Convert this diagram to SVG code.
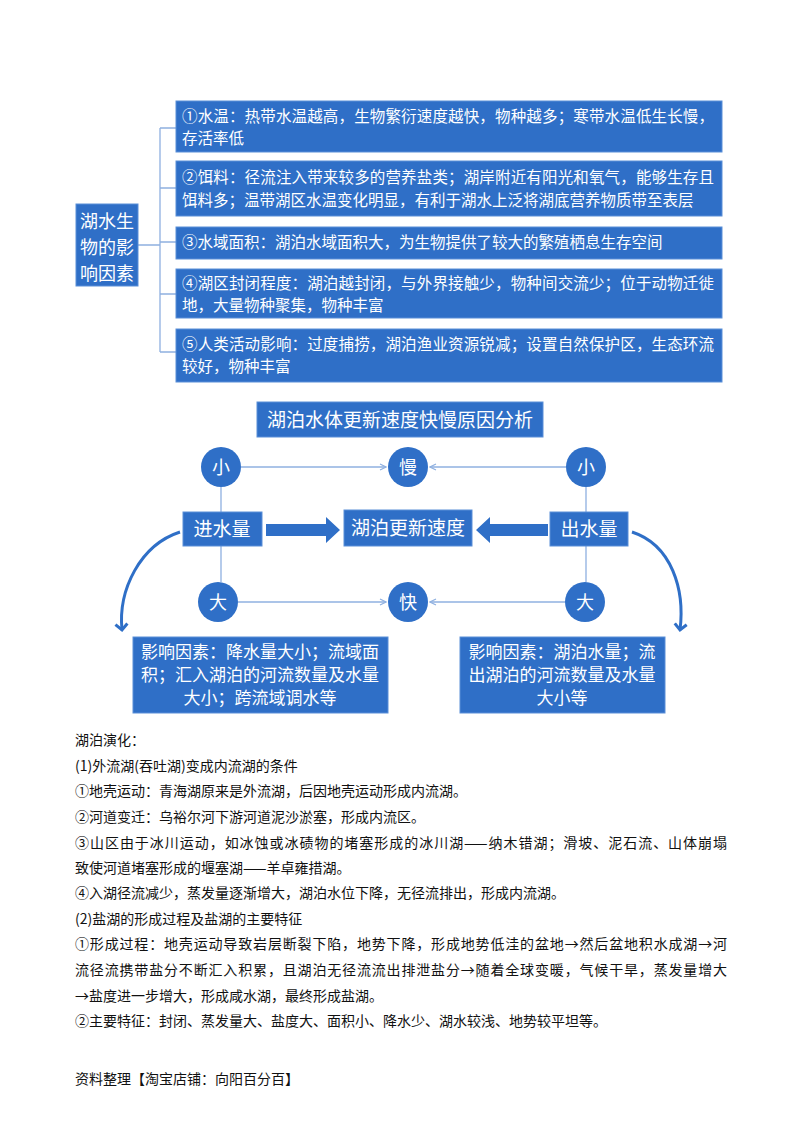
<svg xmlns="http://www.w3.org/2000/svg" width="800" height="1132" viewBox="0 0 800 1132">
<defs>
<style>
.b{fill:#2F6FC7;stroke:#5B8FD8;stroke-width:1}
.w{fill:#fff;font-family:"Noto Sans CJK SC",sans-serif}
.t{fill:#111;font-family:"Noto Sans CJK SC",serif;font-size:14px}
.ln{stroke:#8FB0E0;stroke-width:1.3;fill:none}
.th{stroke:#2F6FC7;stroke-width:3;fill:none}
</style>
<marker id="ah" markerWidth="8" markerHeight="8" refX="7" refY="4" orient="auto" markerUnits="userSpaceOnUse"><path d="M1,1 L7,4 L1,7" fill="none" stroke="#8FB0E0" stroke-width="1.2"/></marker>
<marker id="ch" markerWidth="16" markerHeight="16" refX="8" refY="8" orient="auto" markerUnits="userSpaceOnUse"><path d="M2,2 L8,8 L2,14" fill="none" stroke="#2F6FC7" stroke-width="3"/></marker>
</defs>
<rect width="800" height="1132" fill="#fff"/>
<g id="connectors">
<path class="ln" d="M138,245 H160 M160,128 V352 M160,128 H176 M160,188 H176 M160,242 H176 M160,294 H176 M160,352 H176"/>
<line class="ln" x1="241" y1="467" x2="386" y2="467" marker-end="url(#ah)"/>
<line class="ln" x1="566" y1="467" x2="430" y2="467" marker-end="url(#ah)"/>
<line class="ln" x1="238" y1="602" x2="386" y2="602" marker-end="url(#ah)"/>
<line class="ln" x1="565" y1="602" x2="430" y2="602" marker-end="url(#ah)"/>
<path class="ln" d="M221,487 V512 M221,546 V582 M586,487 V512 M586,546 V582"/>
<path d="M266,524 H326 V517 L340,530 L326,543 V536 H266 Z" fill="#2F6FC7"/>
<path d="M548,524 H490 V517 L476,530 L490,543 V536 H548 Z" fill="#2F6FC7"/>
<path class="th" d="M180,532 C140,545 118,590 122,630" marker-end="url(#ch)"/>
<path class="th" d="M632,532 C672,545 685,590 680,630" marker-end="url(#ch)"/>
</g>
<g id="n-root"><rect class="b" x="76" y="204" width="62" height="82"/><text class="w" font-size="18" x="107" y="228" text-anchor="middle">湖水生</text><text class="w" font-size="18" x="107" y="254" text-anchor="middle">物的影</text><text class="w" font-size="18" x="107" y="280" text-anchor="middle">响因素</text></g>
<g id="n1"><rect class="b" x="176" y="101" width="546" height="51"/><text class="w" font-size="15.5" x="182" y="122" textLength="532">①水温：热带水温越高，生物繁衍速度越快，物种越多；寒带水温低生长慢，</text><text class="w" font-size="15.5" x="182" y="144">存活率低</text></g>
<g id="n2"><rect class="b" x="176" y="161" width="546" height="55"/><text class="w" font-size="15.5" x="182" y="183" textLength="532">②饵料：径流注入带来较多的营养盐类；湖岸附近有阳光和氧气，能够生存且</text><text class="w" font-size="15.5" x="182" y="206">饵料多；温带湖区水温变化明显，有利于湖水上泛将湖底营养物质带至表层</text></g>
<g id="n3"><rect class="b" x="176" y="227" width="546" height="32"/><text class="w" font-size="15.5" x="182" y="248">③水域面积：湖泊水域面积大，为生物提供了较大的繁殖栖息生存空间</text></g>
<g id="n4"><rect class="b" x="176" y="269" width="546" height="49"/><text class="w" font-size="15.5" x="182" y="289" textLength="532">④湖区封闭程度：湖泊越封闭，与外界接触少，物种间交流少；位于动物迁徙</text><text class="w" font-size="15.5" x="182" y="311">地，大量物种聚集，物种丰富</text></g>
<g id="n5"><rect class="b" x="176" y="329" width="546" height="53"/><text class="w" font-size="15.5" x="182" y="350" textLength="532">⑤人类活动影响：过度捕捞，湖泊渔业资源锐减；设置自然保护区，生态环流</text><text class="w" font-size="15.5" x="182" y="372">较好，物种丰富</text></g>
<g id="title"><rect class="b" x="257" y="402" width="286" height="35"/><text class="w" font-size="19" x="400" y="427" text-anchor="middle">湖泊水体更新速度快慢原因分析</text></g>
<g id="c1"><circle cx="221" cy="467" r="20" fill="#2F6FC7"/><text class="w" font-size="18" x="221" y="474" text-anchor="middle">小</text></g>
<g id="c2"><circle cx="408" cy="467" r="20" fill="#2F6FC7"/><text class="w" font-size="18" x="408" y="474" text-anchor="middle">慢</text></g>
<g id="c3"><circle cx="586" cy="467" r="20" fill="#2F6FC7"/><text class="w" font-size="18" x="586" y="474" text-anchor="middle">小</text></g>
<g id="c4"><circle cx="218" cy="602" r="20" fill="#2F6FC7"/><text class="w" font-size="18" x="218" y="609" text-anchor="middle">大</text></g>
<g id="c5"><circle cx="408" cy="602" r="20" fill="#2F6FC7"/><text class="w" font-size="18" x="408" y="609" text-anchor="middle">快</text></g>
<g id="c6"><circle cx="585" cy="602" r="20" fill="#2F6FC7"/><text class="w" font-size="18" x="585" y="609" text-anchor="middle">大</text></g>
<g id="in"><rect class="b" x="183" y="512" width="79" height="34"/><text class="w" font-size="19" x="222" y="536" text-anchor="middle">进水量</text></g>
<g id="mid"><rect class="b" x="344" y="510" width="128" height="36"/><text class="w" font-size="19" x="408" y="535" text-anchor="middle">湖泊更新速度</text></g>
<g id="out"><rect class="b" x="550" y="512" width="78" height="34"/><text class="w" font-size="19" x="589" y="536" text-anchor="middle">出水量</text></g>
<g id="bl"><rect class="b" x="133" y="637" width="255" height="76"/><text class="w" font-size="17" x="260" y="658" text-anchor="middle">影响因素：降水量大小；流域面</text><text class="w" font-size="17" x="260" y="681" text-anchor="middle">积；汇入湖泊的河流数量及水量</text><text class="w" font-size="17" x="260" y="704" text-anchor="middle">大小；跨流域调水等</text></g>
<g id="br"><rect class="b" x="460" y="637" width="205" height="76"/><text class="w" font-size="17" x="562" y="658" text-anchor="middle">影响因素：湖泊水量；流</text><text class="w" font-size="17" x="562" y="681" text-anchor="middle">出湖泊的河流数量及水量</text><text class="w" font-size="17" x="562" y="704" text-anchor="middle">大小等</text></g>
<g id="body">
<text class="t" x="75" y="745">湖泊演化：</text>
<text class="t" x="75" y="771">(1)外流湖(吞吐湖)变成内流湖的条件</text>
<text class="t" x="75" y="796">①地壳运动：青海湖原来是外流湖，后因地壳运动形成内流湖。</text>
<text class="t" x="75" y="822">②河道变迁：乌裕尔河下游河道泥沙淤塞，形成内流区。</text>
<text class="t" x="75" y="848" textLength="652">③山区由于冰川运动，如冰蚀或冰碛物的堵塞形成的冰川湖——纳木错湖；滑坡、泥石流、山体崩塌</text>
<text class="t" x="75" y="873">致使河道堵塞形成的堰塞湖——羊卓雍措湖。</text>
<text class="t" x="75" y="898">④入湖径流减少，蒸发量逐渐增大，湖泊水位下降，无径流排出，形成内流湖。</text>
<text class="t" x="75" y="924">(2)盐湖的形成过程及盐湖的主要特征</text>
<text class="t" x="75" y="949" textLength="652">①形成过程：地壳运动导致岩层断裂下陷，地势下降，形成地势低洼的盆地→然后盆地积水成湖→河</text>
<text class="t" x="75" y="975" textLength="652">流径流携带盐分不断汇入积累，且湖泊无径流流出排泄盐分→随着全球变暖，气候干旱，蒸发量增大</text>
<text class="t" x="75" y="1001">→盐度进一步增大，形成咸水湖，最终形成盐湖。</text>
<text class="t" x="75" y="1026">②主要特征：封闭、蒸发量大、盐度大、面积小、降水少、湖水较浅、地势较平坦等。</text>
<text class="t" x="75" y="1084" font-size="12">资料整理【淘宝店铺：向阳百分百】</text>
</g>
</svg>
